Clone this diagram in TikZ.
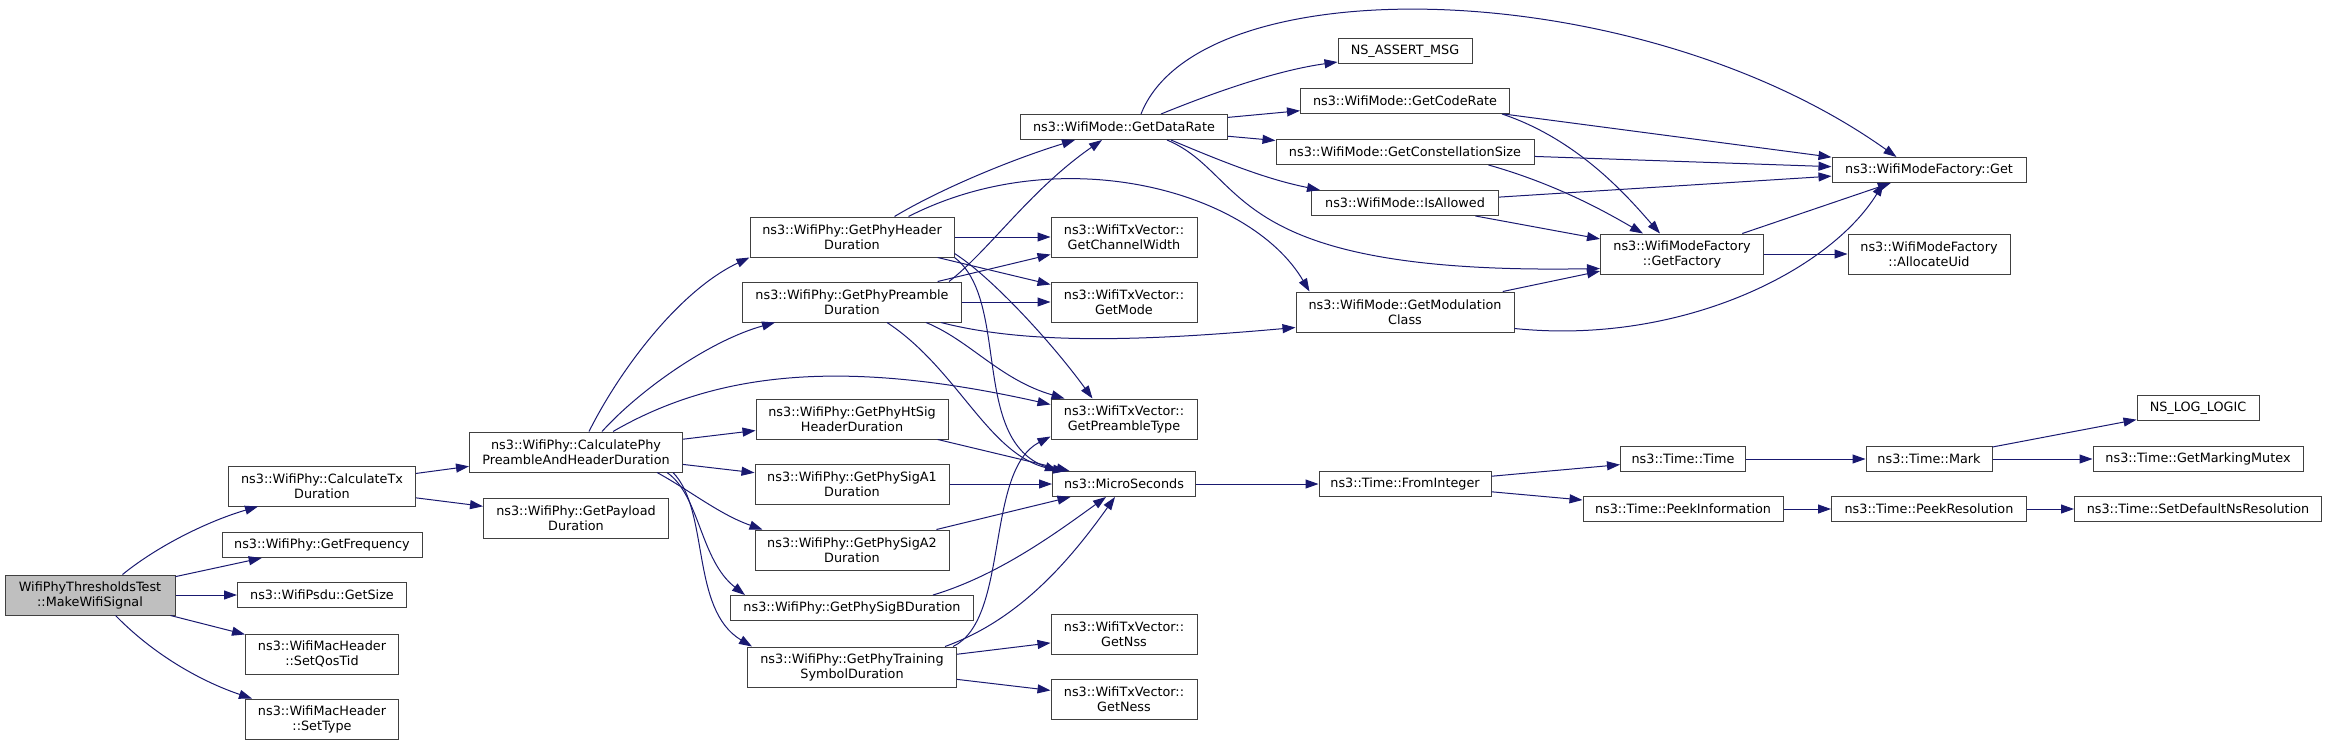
\documentclass[tikz,border=0pt]{standalone}
\usepackage{fontspec}
\setmainfont{DejaVu Sans}
\usepackage{xcolor}
\usepackage{tikz}
\usetikzlibrary{arrows.meta}
\definecolor{edgeblue}{HTML}{191970}
\definecolor{boxline}{HTML}{404040}
\definecolor{rootfill}{HTML}{BFBFBF}
\newcommand{\dxfont}{\fontsize{12.8}{15}\selectfont}
\tikzstyle{fn}  =[rectangle, draw=boxline, fill=white, line width=1pt,
                  minimum height=25pt, inner xsep=2pt, inner ysep=1pt,
                  align=center, font=\dxfont]
\tikzstyle{fnn} =[fn, minimum height=40pt]
\tikzstyle{root}=[fnn, fill=rootfill]
\tikzstyle{call}=[->, >={Triangle[length=13pt,width=9pt]}, draw=edgeblue,
                  fill=none, line width=1pt]

\begin{document}
\begin{tikzpicture}[x=1pt, y=-1pt]

  \useasboundingbox (0,0) rectangle (2328,745);

  % ── nodes ──────────────────────────────────────────────────────────────────
  \node[root, minimum width=170pt] (mws)      at (90,595)   {WifiPhyThresholdsTest\\::MakeWifiSignal};
  \node[fnn, minimum width=187pt]  (calctx)   at (322,486)  {ns3::WifiPhy::CalculateTx\\Duration};
  \node[fn,  minimum width=200pt]  (getfreq)  at (322,545)  {ns3::WifiPhy::GetFrequency};
  \node[fn,  minimum width=169pt]  (getsize)  at (322,595)  {ns3::WifiPsdu::GetSize};
  \node[fnn, minimum width=153pt]  (setqos)   at (322,654)  {ns3::WifiMacHeader\\::SetQosTid};
  \node[fnn, minimum width=153pt]  (settype)  at (322,719)  {ns3::WifiMacHeader\\::SetType};
  \node[fnn, minimum width=213pt]  (calcpre)  at (576,452)  {ns3::WifiPhy::CalculatePhy\\PreambleAndHeaderDuration};
  \node[fnn, minimum width=185pt]  (payload)  at (576,518)  {ns3::WifiPhy::GetPayload\\Duration};
  \node[fnn, minimum width=204pt]  (hdr)      at (852,237)  {ns3::WifiPhy::GetPhyHeader\\Duration};
  \node[fnn, minimum width=219pt]  (pre)      at (852,302)  {ns3::WifiPhy::GetPhyPreamble\\Duration};
  \node[fnn, minimum width=192pt]  (htsig)    at (852,419)  {ns3::WifiPhy::GetPhyHtSig\\HeaderDuration};
  \node[fnn, minimum width=194pt]  (siga1)    at (852,484)  {ns3::WifiPhy::GetPhySigA1\\Duration};
  \node[fnn, minimum width=194pt]  (siga2)    at (852,550)  {ns3::WifiPhy::GetPhySigA2\\Duration};
  \node[fn,  minimum width=243pt]  (sigb)     at (852,608)  {ns3::WifiPhy::GetPhySigBDuration};
  \node[fnn, minimum width=209pt]  (train)    at (852,667)  {ns3::WifiPhy::GetPhyTraining\\SymbolDuration};
  \node[fnn, minimum width=146pt]  (chw)      at (1124,237) {ns3::WifiTxVector::\\GetChannelWidth};
  \node[fnn, minimum width=146pt]  (mode)     at (1124,302) {ns3::WifiTxVector::\\GetMode};
  \node[fnn, minimum width=146pt]  (ptype)    at (1124,419) {ns3::WifiTxVector::\\GetPreambleType};
  \node[fn,  minimum width=143pt]  (micro)    at (1124,484) {ns3::MicroSeconds};
  \node[fnn, minimum width=146pt]  (nss)      at (1124,634) {ns3::WifiTxVector::\\GetNss};
  \node[fnn, minimum width=146pt]  (ness)     at (1124,699) {ns3::WifiTxVector::\\GetNess};
  \node[fn,  minimum width=207pt]  (rate)     at (1124,127) {ns3::WifiMode::GetDataRate};
  \node[fn,  minimum width=134pt]  (assert)   at (1405,51)  {NS\_ASSERT\_MSG};
  \node[fn,  minimum width=209pt]  (coderate) at (1405,101) {ns3::WifiMode::GetCodeRate};
  \node[fn,  minimum width=258pt]  (constsize) at (1405,152) {ns3::WifiMode::GetConstellationSize};
  \node[fn,  minimum width=187pt]  (allowed)  at (1405,203) {ns3::WifiMode::IsAllowed};
  \node[fnn, minimum width=218pt]  (modclass) at (1405,312) {ns3::WifiMode::GetModulation\\Class};
  \node[fn,  minimum width=194pt]  (fget)     at (1929,170) {ns3::WifiModeFactory::Get};
  \node[fnn, minimum width=163pt]  (factory)  at (1682,254) {ns3::WifiModeFactory\\::GetFactory};
  \node[fnn, minimum width=162pt]  (alloc)    at (1929,254) {ns3::WifiModeFactory\\::AllocateUid};
  \node[fn,  minimum width=172pt]  (fromint)  at (1405,484) {ns3::Time::FromInteger};
  \node[fn,  minimum width=125pt]  (ttime)    at (1683,459) {ns3::Time::Time};
  \node[fn,  minimum width=200pt]  (peekinfo) at (1683,509) {ns3::Time::PeekInformation};
  \node[fn,  minimum width=126pt]  (mark)     at (1929,459) {ns3::Time::Mark};
  \node[fn,  minimum width=195pt]  (peekres)  at (1929,509) {ns3::Time::PeekResolution};
  \node[fn,  minimum width=122pt]  (nslog)    at (2198,408) {NS\_LOG\_LOGIC};
  \node[fn,  minimum width=210pt]  (mutex)    at (2198,459) {ns3::Time::GetMarkingMutex};
  \node[fn,  minimum width=247pt]  (setdef)   at (2198,509) {ns3::Time::SetDefaultNsResolution};

  % ── MakeWifiSignal and CalculateTxDuration ─────────────────────────────────
  \draw[call] ([xshift=118pt]mws.north west) .. controls +(37,-30) and +(-48,14) .. ([xshift=30pt]calctx.south west);
  \draw[call] (mws) -- (getfreq);
  \draw[call] (mws) -- (getsize);
  \draw[call] (mws) -- (setqos);
  \draw[call] ([xshift=111pt]mws.south west) .. controls +(44,45) and +(-42,-14) .. ([xshift=7pt]settype.north west);
  \draw[call] (calctx) -- (calcpre);
  \draw[call] (calctx) -- (payload);

  % ── CalculatePhyPreambleAndHeaderDuration fan-out ──────────────────────────
  \draw[call] ([xshift=120pt]calcpre.north west) .. controls +(31,-62) and +(-70,33) .. (hdr.south west);
  \draw[call] ([xshift=133pt]calcpre.north west) .. controls +(38,-42) and +(-65,18) .. ([xshift=33pt]pre.south west);
  \draw[call] ([xshift=144pt]calcpre.north west) .. controls +(107,-62) and +(-201,-45) .. ([yshift=-6pt]ptype.north west);
  \draw[call] (calcpre) -- (htsig);
  \draw[call] (calcpre) -- (siga1);
  \draw[call] ([xshift=188pt]calcpre.south west) .. controls +(33,18) and +(-43,-15) .. ([xshift=8pt]siga2.north west);
  \draw[call] ([xshift=198pt]calcpre.south west) .. controls +(33,23) and +(-45,-35) .. ([xshift=15pt]sigb.north west);
  \draw[call] ([xshift=204pt]calcpre.south west) .. controls +(37,38) and +(-62,-37) .. ([xshift=5pt]train.north west);

  % ── GetPhyHeaderDuration / GetPhyPreambleDuration ──────────────────────────
  \draw[call] ([xshift=145pt]hdr.north west) .. controls +(45,-27) and +(-65,20) .. ([xshift=55pt]rate.south west);
  \draw[call] ([xshift=159pt]hdr.north west) .. controls +(151,-77) and +(-60,-102) .. ([xshift=14pt]modclass.north west);
  \draw[call] (hdr) -- (chw);
  \draw[call] (hdr) -- (mode);
  \draw[call] ([yshift=4pt]hdr.south east) .. controls +(35,22) and +(-43,-59) .. ([xshift=42pt]ptype.north west);
  \draw[call] (hdr.south east) .. controls +(56,43) and +(-88,-31) .. ([xshift=6pt]micro.north west);
  \draw[call] ([xshift=207pt]pre.north west) .. controls +(41,-32) and +(-72,50) .. ([xshift=82pt]rate.south west);
  \draw[call] (pre) -- (chw);
  \draw[call] (pre) -- (mode);
  \draw[call] ([xshift=199pt]pre.south west) .. controls +(89,23) and +(-146,13) .. ([yshift=5pt]modclass.south west);
  \draw[call] ([xshift=184pt]pre.south west) .. controls +(44,18) and +(-65,-19) .. ([xshift=14pt]ptype.north west);
  \draw[call] ([xshift=145pt]pre.south west) .. controls +(73,48) and +(-76,-11) .. ([xshift=14pt]micro.north west);

  % ── into MicroSeconds and the TxVector getters ─────────────────────────────
  \draw[call] (htsig) -- (micro);
  \draw[call] (siga1) -- (micro);
  \draw[call] (siga2) -- (micro);
  \draw[call] ([xshift=203pt]sigb.north west) .. controls +(67,-20) and +(-46,33) .. ([xshift=54pt]micro.south west);
  \draw[call] ([xshift=198pt]train.north west) .. controls +(75,-27) and +(-45,63) .. ([xshift=63pt]micro.south west);
  \draw[call] ([xshift=206pt]train.north west) .. controls +(57,-27) and +(-66,34) .. ([yshift=3pt]ptype.south west);
  \draw[call] (train) -- (nss);
  \draw[call] (train) -- (ness);

  % ── GetDataRate and the mode factory ───────────────────────────────────────
  \draw[call] ([xshift=121pt]rate.north west) .. controls +(59,-150) and +(-257,-183) .. ([xshift=65pt]fget.north west);
  \draw[call] ([xshift=141pt]rate.north west) .. controls +(59,-24) and +(-58,8) .. ([yshift=2pt]assert.south west);
  \draw[call] (rate) -- (coderate);
  \draw[call] (rate) -- (constsize);
  \draw[call] ([xshift=151pt]rate.south west) .. controls +(59,25) and +(-50,-10) .. ([xshift=9pt]allowed.north west);
  \draw[call] ([xshift=147pt]rate.south west) .. controls +(83,35) and +(-380,7) .. ([yshift=6pt]factory.south west);
  \draw[call] (coderate) -- (fget);
  \draw[call] ([xshift=202pt]coderate.south west) .. controls +(78,26) and +(-30,-34) .. ([xshift=60pt]factory.north west);
  \draw[call] (constsize) -- (fget);
  \draw[call] ([xshift=213pt]constsize.south west) .. controls +(71,20) and +(-33,-19) .. ([xshift=43pt]factory.north west);
  \draw[call] (allowed) -- (fget);
  \draw[call] (allowed) -- (factory);
  \draw[call] (factory) -- (fget);
  \draw[call] (factory) -- (alloc);
  \draw[call] (modclass) -- (factory);
  \draw[call] ([yshift=4pt]modclass.south east) .. controls +(166,17) and +(-54,88) .. ([xshift=52pt]fget.south west);

  % ── time chain ─────────────────────────────────────────────────────────────
  \draw[call] (micro)    -- (fromint);
  \draw[call] (fromint)  -- (ttime);
  \draw[call] (fromint)  -- (peekinfo);
  \draw[call] (ttime)    -- (mark);
  \draw[call] (mark)     -- (nslog);
  \draw[call] (mark)     -- (mutex);
  \draw[call] (peekinfo) -- (peekres);
  \draw[call] (peekres)  -- (setdef);

\end{tikzpicture}
\end{document}
